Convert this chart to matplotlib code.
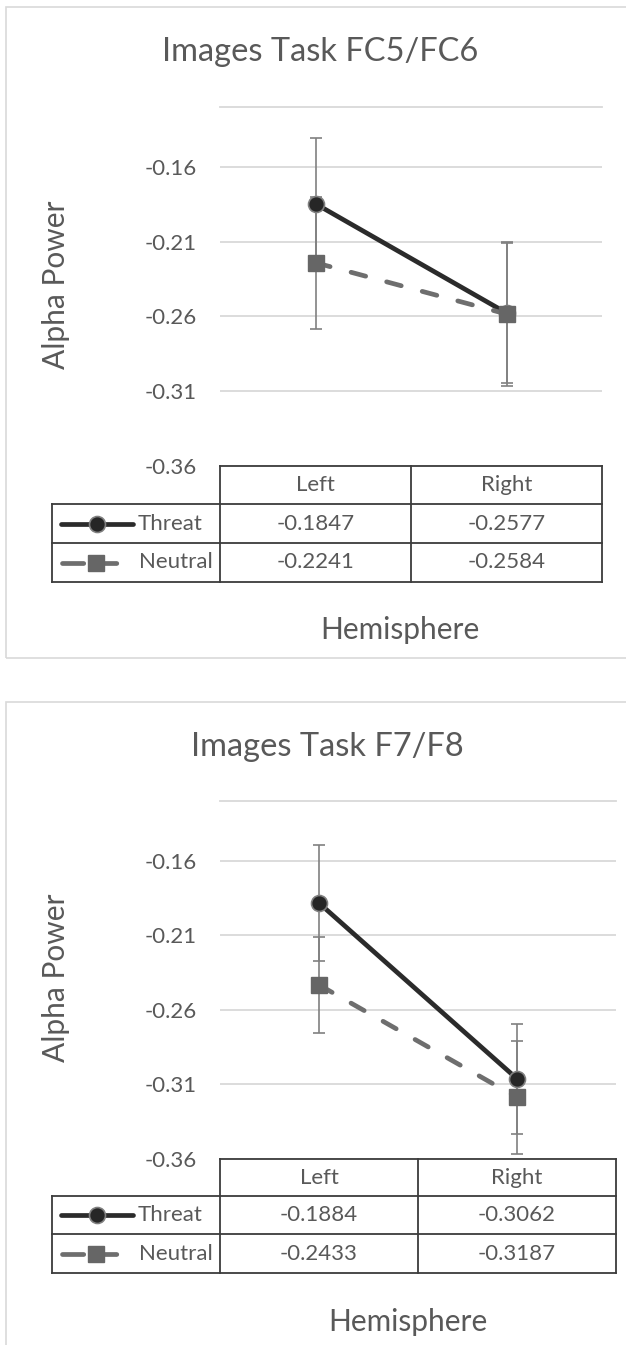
import matplotlib
matplotlib.use("Agg")
import matplotlib.pyplot as plt
import matplotlib.transforms as mtransforms
from matplotlib.lines import Line2D
from matplotlib.patches import Rectangle

plt.rcParams['font.family'] = ['Lato', 'DejaVu Sans']

W, H = 626, 1345

categories = ["Left", "Right"]
series_names = ["Threat", "Neutral"]
titles = ["Images Task FC5/FC6", "Images Task F7/F8"]

fc_threat = [-0.1847, -0.2577]
fc_neutral = [-0.2241, -0.2584]
fc_threat_err = [0.044, 0.047]
fc_neutral_err = [0.044, 0.048]

f7_threat = [-0.1884, -0.3062]
f7_neutral = [-0.2433, -0.3187]
f7_threat_err = [0.039, 0.037]
f7_neutral_err = [0.032, 0.038]

yticks = [-0.36, -0.31, -0.26, -0.21, -0.16]
ymin, ymax = -0.36, -0.12

TXT = '#595959'
GRID = '#d9d9d9'
TBL = '#3c3c3c'
THREAT_C = '#2b2b2b'
NEUTRAL_C = '#6e6e6e'
ERR_C = '#808080'
FS = 16

# layout of each panel in pixels
layouts = [
    dict(box=(6, 7, 660, 658), plot=(220, 602, 107, 466), rows=(466, 504, 543, 582),
         tleft=52, title=(320, 52), xlab=(400, 630)),
    dict(box=(6, 702, 680, 1370), plot=(220, 616, 801, 1159), rows=(1159, 1196, 1234, 1273),
         tleft=52, title=(327, 747), xlab=(408, 1322)),
]


def fx(x):
    return x / W


def fy(y):
    return 1 - y / H


def fline(fig, xs, ys, **kw):
    fig.add_artist(Line2D([fx(v) for v in xs], [fy(v) for v in ys],
                          transform=fig.transFigure, **kw))


def draw_panel(fig, lay, title, threat, neutral, terr, nerr):
    bx0, by0, bx1, by1 = lay['box']
    fig.add_artist(Rectangle((fx(bx0), fy(by1)), (bx1 - bx0) / W, (by1 - by0) / H,
                             transform=fig.transFigure, fill=False,
                             edgecolor=GRID, lw=1.2))
    l, r, t, b = lay['plot']
    ax = fig.add_axes([fx(l), fy(b), (r - l) / W, (b - t) / H])
    x = [0.5, 1.5]
    ax.errorbar(x, threat, yerr=terr, fmt='none', ecolor=ERR_C, elinewidth=1.2,
                capsize=4, capthick=1.2, zorder=2)
    ax.errorbar(x, neutral, yerr=nerr, fmt='none', ecolor=ERR_C, elinewidth=1.2,
                capsize=4, capthick=1.2, zorder=2)
    ax.plot(x, threat, color=THREAT_C, lw=3.4, marker='o', ms=11.5,
            mfc='#262626', mec='#808080', mew=1.2, zorder=3)
    ax.plot(x, neutral, color=NEUTRAL_C, lw=3.4, ls=(0, (3.2, 4.6)),
            dash_capstyle='round', marker='s', ms=11.5,
            mfc='#666666', mec='#666666', zorder=4)
    ax.set_xlim(0, 2)
    ax.set_ylim(ymin, ymax)
    ax.set_xticks([])
    ax.set_yticks(yticks)
    ax.set_yticklabels([f"{v:.2f}" for v in yticks])
    ax.tick_params(axis='y', length=0, pad=17, labelsize=FS, labelcolor=TXT)
    ax.yaxis.grid(True, color=GRID, lw=1.3)
    ax.set_axisbelow(True)
    for s in ['left', 'right', 'bottom']:
        ax.spines[s].set_visible(False)
    ax.spines['top'].set_color(GRID)
    ax.spines['top'].set_linewidth(1.3)

    # data table under the axis
    y0, y1, y2, y3 = lay['rows']
    tl = lay['tleft']
    mid = (l + r) / 2
    lw = 1.3
    fline(fig, [l, r], [y0, y0], color=TBL, lw=lw)
    for yy in (y1, y2, y3):
        fline(fig, [tl, r], [yy, yy], color=TBL, lw=lw)
    for xx in (l, mid, r):
        fline(fig, [xx, xx], [y0, y3], color=TBL, lw=lw)
    fline(fig, [tl, tl], [y1, y3], color=TBL, lw=lw)

    blend = mtransforms.blended_transform_factory(ax.transData, fig.transFigure)
    for i, cat in enumerate(categories):
        ax.text(x[i], fy((y0 + y1) / 2), cat, transform=blend, ha='center',
                va='center', fontsize=FS, color=TXT)
        ax.text(x[i], fy((y1 + y2) / 2), f"{threat[i]:.4f}", transform=blend,
                ha='center', va='center', fontsize=FS, color=TXT)
        ax.text(x[i], fy((y2 + y3) / 2), f"{neutral[i]:.4f}", transform=blend,
                ha='center', va='center', fontsize=FS, color=TXT)

    # legend keys in the row headers
    ya = (y1 + y2) / 2
    fig.add_artist(Line2D([fx(61), fx(97), fx(133)], [fy(ya)] * 3,
                          transform=fig.transFigure, color=THREAT_C, lw=3.4,
                          solid_capstyle='round', marker='o', ms=11.5, markevery=[1],
                          mfc='#262626', mec='#808080', mew=1.2))
    yb = (y2 + y3) / 2
    fig.add_artist(Line2D([fx(62), fx(96), fx(122)], [fy(yb)] * 3,
                          transform=fig.transFigure, color=NEUTRAL_C, lw=3.4,
                          ls=(0, (4.5, 2.5)), dash_capstyle='round', marker='s',
                          ms=11.5, markevery=[1], mfc='#666666', mec='#666666'))
    fig.text(fx(138), fy(ya), series_names[0], ha='left', va='center',
             fontsize=FS, color=TXT)
    fig.text(fx(139), fy(yb), series_names[1], ha='left', va='center',
             fontsize=FS, color=TXT)

    fig.text(fx(lay['title'][0]), fy(lay['title'][1]), title, ha='center',
             va='center', fontsize=23.5, color=TXT)
    fig.text(fx(lay['xlab'][0]), fy(lay['xlab'][1]), 'Hemisphere', ha='center',
             va='center', fontsize=21.5, color=TXT)
    fig.text(fx(56), fy((t + b) / 2 - 2), 'Alpha Power', rotation=90, ha='center',
             va='center', fontsize=21.5, color=TXT)


fig = plt.figure(figsize=(W / 100, H / 100), dpi=100)
fig.patch.set_facecolor('white')
draw_panel(fig, layouts[0], titles[0], fc_threat, fc_neutral, fc_threat_err, fc_neutral_err)
draw_panel(fig, layouts[1], titles[1], f7_threat, f7_neutral, f7_threat_err, f7_neutral_err)
fig.savefig('out.png', dpi=100)
